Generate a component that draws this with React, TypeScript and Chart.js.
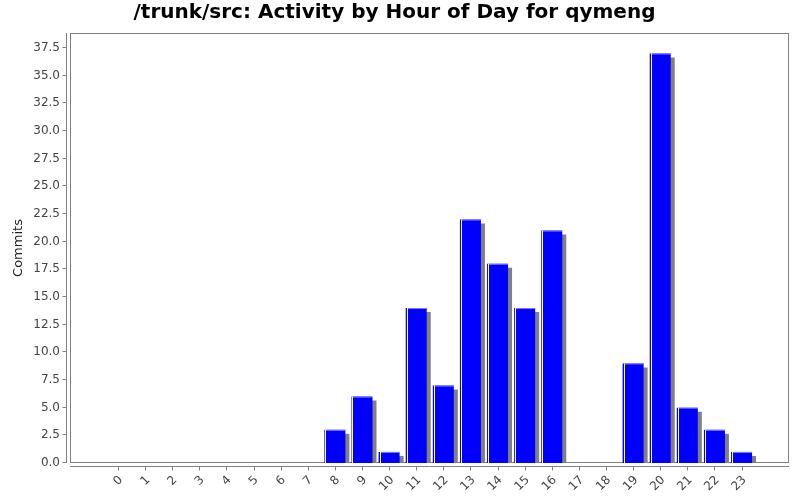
import React, { useEffect, useRef } from "react";
import { Chart, registerables } from "chart.js";

Chart.register(...registerables);

const chartTitle = "/trunk/src: Activity by Hour of Day for qymeng";
const yAxisTitle = "Commits";
const hours = [0, 1, 2, 3, 4, 5, 6, 7, 8, 9, 10, 11, 12, 13, 14, 15, 16, 17, 18, 19, 20, 21, 22, 23];
const commits = [0, 0, 0, 0, 0, 0, 0, 0, 3, 6, 1, 14, 7, 22, 18, 14, 21, 0, 0, 9, 37, 5, 3, 1];
const yTicks = [0, 2.5, 5, 7.5, 10, 12.5, 15, 17.5, 20, 22.5, 25, 27.5, 30, 32.5, 35, 37.5];

const X_MIN = -1.77;
const X_MAX = 24.75;
const Y_MAX = 38.85;

const FONT = "'DejaVu Sans', sans-serif";
const AXIS_GRAY = "#808080";

const decorPlugin = {
  id: "decor",
  beforeDatasetsDraw(chart: any) {
    const { ctx, chartArea: a, scales } = chart;
    ctx.save();
    ctx.strokeStyle = AXIS_GRAY;
    ctx.lineWidth = 1;
    // plot box
    ctx.strokeRect(a.left + 0.5, a.top + 0.5, a.right - a.left - 1, a.bottom - a.top - 1);
    // y axis line + ticks
    const yLineX = a.left - 3.5;
    ctx.beginPath();
    ctx.moveTo(yLineX, a.top);
    ctx.lineTo(yLineX, a.bottom);
    for (const v of yTicks) {
      const py = Math.round(scales.y.getPixelForValue(v)) - 0.5;
      ctx.moveTo(yLineX - 4, py);
      ctx.lineTo(yLineX, py);
    }
    // x axis line + ticks
    const xLineY = a.bottom + 3.5;
    ctx.moveTo(a.left, xLineY);
    ctx.lineTo(a.right, xLineY);
    for (const h of hours) {
      const px = Math.round(scales.x.getPixelForValue(h)) + 0.5;
      ctx.moveTo(px, xLineY);
      ctx.lineTo(px, xLineY + 4);
    }
    ctx.stroke();
    ctx.restore();
    // shadow for bars
    ctx.save();
    ctx.shadowColor = "#808080";
    ctx.shadowOffsetX = 4;
    ctx.shadowOffsetY = 4;
    ctx.shadowBlur = 0;
  },
  afterDatasetsDraw(chart: any) {
    const { ctx, chartArea: a } = chart;
    ctx.restore();
    ctx.save();
    ctx.beginPath();
    ctx.rect(a.left, a.top, a.right - a.left, a.bottom - a.top);
    ctx.clip();
    const meta = chart.getDatasetMeta(0);
    meta.data.forEach((bar: any) => {
      const { x, y, base, width } = bar.getProps(["x", "y", "base", "width"], true);
      if (base - y < 0.5) return;
      const left = Math.round(x - width / 2);
      ctx.fillStyle = "#ffffff";
      ctx.fillRect(left + 1, y, 1, base - y);
      ctx.fillStyle = "#7f7fff";
      ctx.fillRect(left + 2, y, width - 2, 1);
    });
    ctx.restore();
  },
};

export default function App() {
  const canvasRef = useRef<HTMLCanvasElement | null>(null);

  useEffect(() => {
    if (!canvasRef.current) return;
    const chart = new Chart(canvasRef.current, {
      type: "bar",
      data: {
        datasets: [
          {
            data: hours.map((h, i) => ({ x: h, y: commits[i] })),
            backgroundColor: "#0000ff",
            borderWidth: 0,
            categoryPercentage: 1,
            barPercentage: 0.775,
          },
        ],
      },
      options: {
        responsive: false,
        animation: false,
        devicePixelRatio: 1,
        layout: { padding: { left: 0, right: 11, top: 0, bottom: 0 } },
        plugins: {
          legend: { display: false },
          tooltip: { enabled: false },
          title: {
            display: true,
            text: chartTitle,
            color: "#000000",
            font: { family: FONT, size: 20, weight: "bold" },
            padding: { top: 1, bottom: 8 },
          },
        },
        scales: {
          x: {
            type: "linear",
            offset: false,
            min: X_MIN,
            max: X_MAX,
            afterBuildTicks: (s: any) => {
              s.ticks = hours.map((v) => ({ value: v }));
            },
            afterFit: (s: any) => {
              s.height = 37;
              s.paddingLeft = 0;
              s.paddingRight = 0;
            },
            grid: { display: false, drawTicks: false, offset: false },
            border: { display: false },
            ticks: {
              minRotation: 45,
              maxRotation: 45,
              autoSkip: false,
              padding: 10,
              labelOffset: 3,
              color: "#444444",
              font: { family: FONT, size: 12 },
              callback: (v: any) => String(v),
            },
          },
          y: {
            min: 0,
            max: Y_MAX,
            afterBuildTicks: (s: any) => {
              s.ticks = yTicks.map((v) => ({ value: v }));
            },
            afterFit: (s: any) => {
              s.width = 70;
            },
            grid: { display: false, drawTicks: false },
            border: { display: false },
            ticks: {
              padding: 10,
              color: "#444444",
              font: { family: FONT, size: 12 },
              callback: (v: any) => Number(v).toFixed(1),
            },
            title: {
              display: true,
              text: yAxisTitle,
              color: "#222222",
              font: { family: FONT, size: 13 },
              padding: { top: 11, bottom: 0 },
            },
          },
        },
      },
      plugins: [decorPlugin],
    } as any);
    return () => chart.destroy();
  }, []);

  return (
    <div style={{ position: "fixed", left: 0, top: 0, width: 800, height: 500, background: "#fff" }}>
      <canvas ref={canvasRef} width={800} height={500} style={{ width: 800, height: 500 }} />
    </div>
  );
}
